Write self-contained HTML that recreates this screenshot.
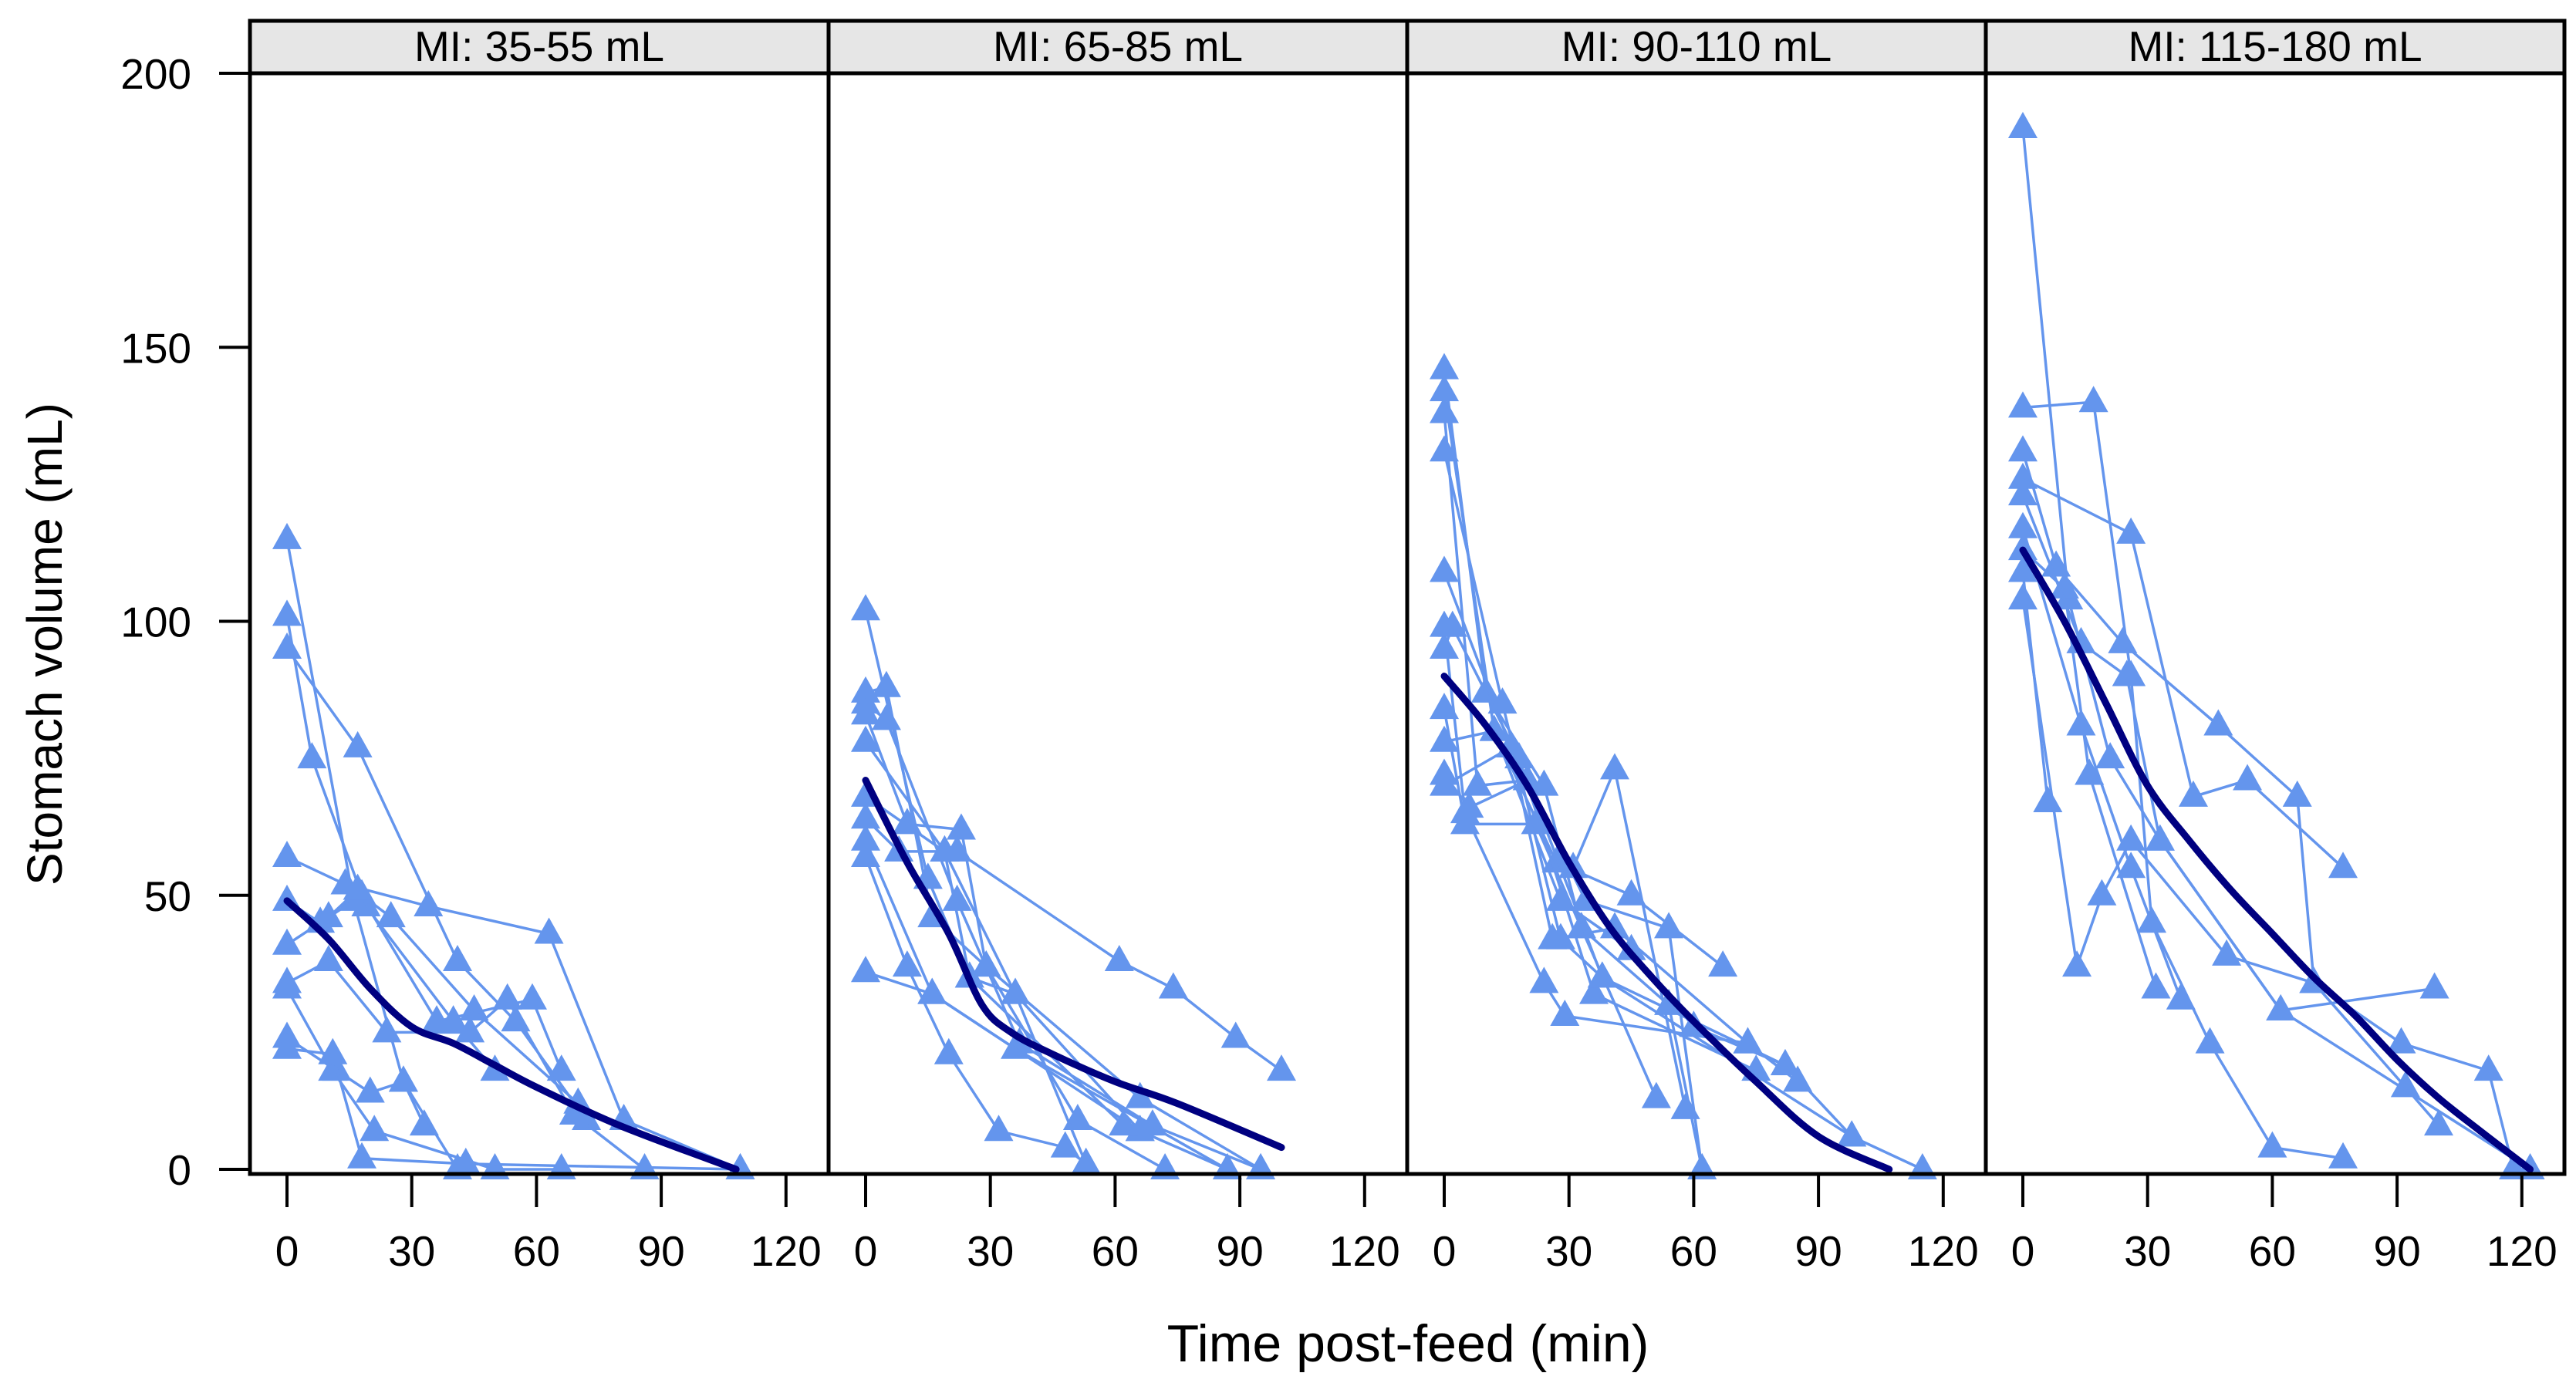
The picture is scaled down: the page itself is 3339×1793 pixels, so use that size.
<!DOCTYPE html>
<html><head><meta charset="utf-8"><style>
html,body{margin:0;padding:0;background:#fff}
svg{display:block}
text{font-family:"Liberation Sans",Arial,sans-serif;fill:#000}
</style></head><body>
<svg id="chart" width="3339" height="1793" viewBox="0 0 3339 1793" xmlns="http://www.w3.org/2000/svg"></svg>
<script>
const panelLabels = ["MI: 35-55 mL","MI: 65-85 mL","MI: 90-110 mL","MI: 115-180 mL"];
const xTicks = [0,30,60,90,120];
const yTicks = [0,50,100,150,200];
const subjects1 = [
 [[0,115],[16,49],[28,16],[33,8]],
 [[0,101],[6,75],[19,48],[40,27],[50,18]],
 [[0,95],[17,77],[41,38],[55,27],[72,9]],
 [[0,57],[14,52],[34,48],[63,43],[81,9],[109,0]],
 [[0,49],[8,45],[18,50],[25,46],[45,29],[70,12]],
 [[0,41],[10,46],[17,51],[36,27],[59,31],[66,18]],
 [[0,34],[10,38],[24,25],[44,25],[53,31],[69,10],[86,0]],
 [[0,33],[11,18],[21,7],[50,0],[66,0]],
 [[0,24],[12,18],[20,14],[28,16],[41,0]],
 [[0,22],[11,21],[18,2],[43,1],[109,0]]
];
const subjects2 = [
 [[0,102],[15,53],[25,35],[36,32],[66,7],[87,0]],
 [[0,87],[5,88],[16,46],[29,37],[51,9],[72,0]],
 [[0,85],[5,82],[22,49],[37,23],[69,8],[95,0]],
 [[0,83],[10,63],[23,62],[29,37],[66,13],[95,0]],
 [[0,68],[19,58],[36,32],[53,1]],
 [[0,64],[8,58],[22,58],[61,38],[74,33],[89,24],[100,18]],
 [[0,60],[16,32],[36,22],[87,0]],
 [[0,57],[10,37],[20,21],[32,7],[48,4],[53,1]],
 [[0,36],[16,32],[66,7]],
 [[0,78],[19,58],[25,35],[62,8]]
];
const subjects3 = [
 [[0,146],[10,87],[24,70],[33,44],[51,13]],
 [[0,142],[12,80],[27,56],[45,50],[67,37]],
 [[0,138],[8,70],[20,71],[34,49],[54,44],[62,0]],
 [[0,131],[14,85],[28,42],[38,35],[82,19],[98,6],[115,0]],
 [[0,109],[16,77],[31,55],[41,73],[58,11]],
 [[0,99],[5,65],[24,34],[29,28],[73,23],[85,16]],
 [[0,95],[2,99],[18,75],[36,32],[75,18]],
 [[0,84],[5,63],[22,63],[33,44],[54,30],[62,0]],
 [[0,78],[12,80],[28,49],[45,40],[60,26],[82,19]],
 [[0,72],[6,66],[20,71],[38,35],[98,6]],
 [[0,70],[16,77],[26,42],[41,44],[73,23]]
];
const subjects4 = [
 [[0,190],[11,104],[21,75],[33,60],[62,29],[99,33]],
 [[0,139],[17,140],[26,90],[31,45],[45,23],[60,4],[77,2]],
 [[0,131],[8,110],[24,96],[47,81],[66,68],[70,34],[92,15],[100,8]],
 [[0,126],[26,116],[41,68],[54,71],[77,55]],
 [[0,117],[14,81],[26,55],[38,31]],
 [[0,113],[10,106],[16,72],[32,33]],
 [[0,109],[6,67]],
 [[0,104],[13,37],[19,50],[26,60],[49,39],[70,34],[91,23],[112,18],[118,0]],
 [[0,123],[14,96],[25,90],[33,60],[62,29],[122,0]]
];
const smooth1 = [[0,49],[10,42],[20,33],[30,26],[40,23],[50,19],[60,15],[80,8],[108,0]];
const smooth2 = [[0,71],[10,56],[20,43],[28,30],[35,25],[45,21],[60,16],[75,12],[100,4]];
const smooth3 = [[0,90],[10,81],[20,70],[30,56],[40,44],[50,35],[60,27],[75,16],[90,6],[107,0]];
const smooth4 = [[0,113],[10,100],[20,85],[30,70],[40,60],[50,51],[60,43],[70,35],[80,28],[90,20],[100,13],[110,7],[122,0]];

const allSubjects=[subjects1,subjects2,subjects3,subjects4];
const allSmooth=[smooth1,smooth2,smooth3,smooth4];
const NS="http://www.w3.org/2000/svg";
const svg=document.getElementById('chart');
const P0=324, PW=750, Y0=1516, YU=7.105, XOFF=48, XU=5.39, TOP=27, STRIP=95, BOT=1522;
function mk(tag,attrs,parent){const e=document.createElementNS(NS,tag);for(const k in attrs)e.setAttribute(k,attrs[k]);(parent||svg).appendChild(e);return e;}
function yS(v){return Y0-v*YU;}
function xS(p,t){return P0+p*PW+XOFF+t*XU;}
function splinePath(pts){
  let d='M'+pts[0][0]+','+pts[0][1];
  for(let i=0;i<pts.length-1;i++){
    const p0=pts[Math.max(0,i-1)],p1=pts[i],p2=pts[i+1],p3=pts[Math.min(pts.length-1,i+2)];
    const c1x=p1[0]+(p2[0]-p0[0])/6,c1y=p1[1]+(p2[1]-p0[1])/6;
    const c2x=p2[0]-(p3[0]-p1[0])/6,c2y=p2[1]-(p3[1]-p1[1])/6;
    d+=` C${c1x},${c1y} ${c2x},${c2y} ${p2[0]},${p2[1]}`;
  }
  return d;
}

for(let p=0;p<4;p++){
  const g=mk('g',{});
  
  
  const L=P0+p*PW;
  const strip=mk('rect',{x:L,y:TOP,width:PW,height:STRIP-TOP,fill:'#e6e6e6',stroke:'none'},g);
  
  
  const st=mk('text',{x:L+PW/2,y:TOP+52,'text-anchor':'middle','font-size':55},g);
  st.textContent=panelLabels[p];
  
  
  const cg=mk('g',{},g);
  allSubjects[p].forEach((s,i)=>{
    const pl=mk('polyline',{points:s.map(d=>xS(p,d[0])+','+yS(d[1])).join(' '),fill:'none',stroke:'#6495ED','stroke-width':3.5},cg);
    
    
    s.forEach(d=>{
      const x=xS(p,d[0]),y=yS(d[1]);
      const tr=mk('polygon',{points:`${x},${y-21} ${x-19},${y+13} ${x+19},${y+13}`,fill:'#6495ED'},cg);
      
      
    });
  });
  const sm=mk('path',{d:splinePath(allSmooth[p].map(d=>[xS(p,d[0]),yS(d[1])])),fill:'none',stroke:'#000080','stroke-width':9,'stroke-linejoin':'round','stroke-linecap':'round'},g);
  
  
  mk('rect',{x:L,y:TOP,width:PW,height:BOT-TOP,fill:'none',stroke:'#000','stroke-width':5},g);
  mk('line',{x1:L,y1:STRIP,x2:L+PW,y2:STRIP,stroke:'#000','stroke-width':5},g);
  xTicks.forEach(t=>{
    const x=xS(p,t);
    mk('line',{x1:x,y1:BOT,x2:x,y2:1565,stroke:'#000','stroke-width':4},g);
    const tl=mk('text',{x:x,y:1641,'text-anchor':'middle','font-size':55},g);
    tl.textContent=t;
    
    
  });
}
yTicks.forEach(v=>{
  const y=yS(v);
  mk('line',{x1:284,y1:y,x2:324,y2:y,stroke:'#000','stroke-width':4});
  const tl=mk('text',{x:248,y:y+20,'text-anchor':'end','font-size':55});
  tl.textContent=v;
  
  
});
const yt=mk('text',{x:0,y:0,'text-anchor':'middle','font-size':64,transform:'translate(80,835) rotate(-90)'});
yt.textContent='Stomach volume (mL)';


const xt=mk('text',{x:1825,y:1765,'text-anchor':'middle','font-size':68});
xt.textContent='Time post-feed (min)';


</script>
</body></html>
